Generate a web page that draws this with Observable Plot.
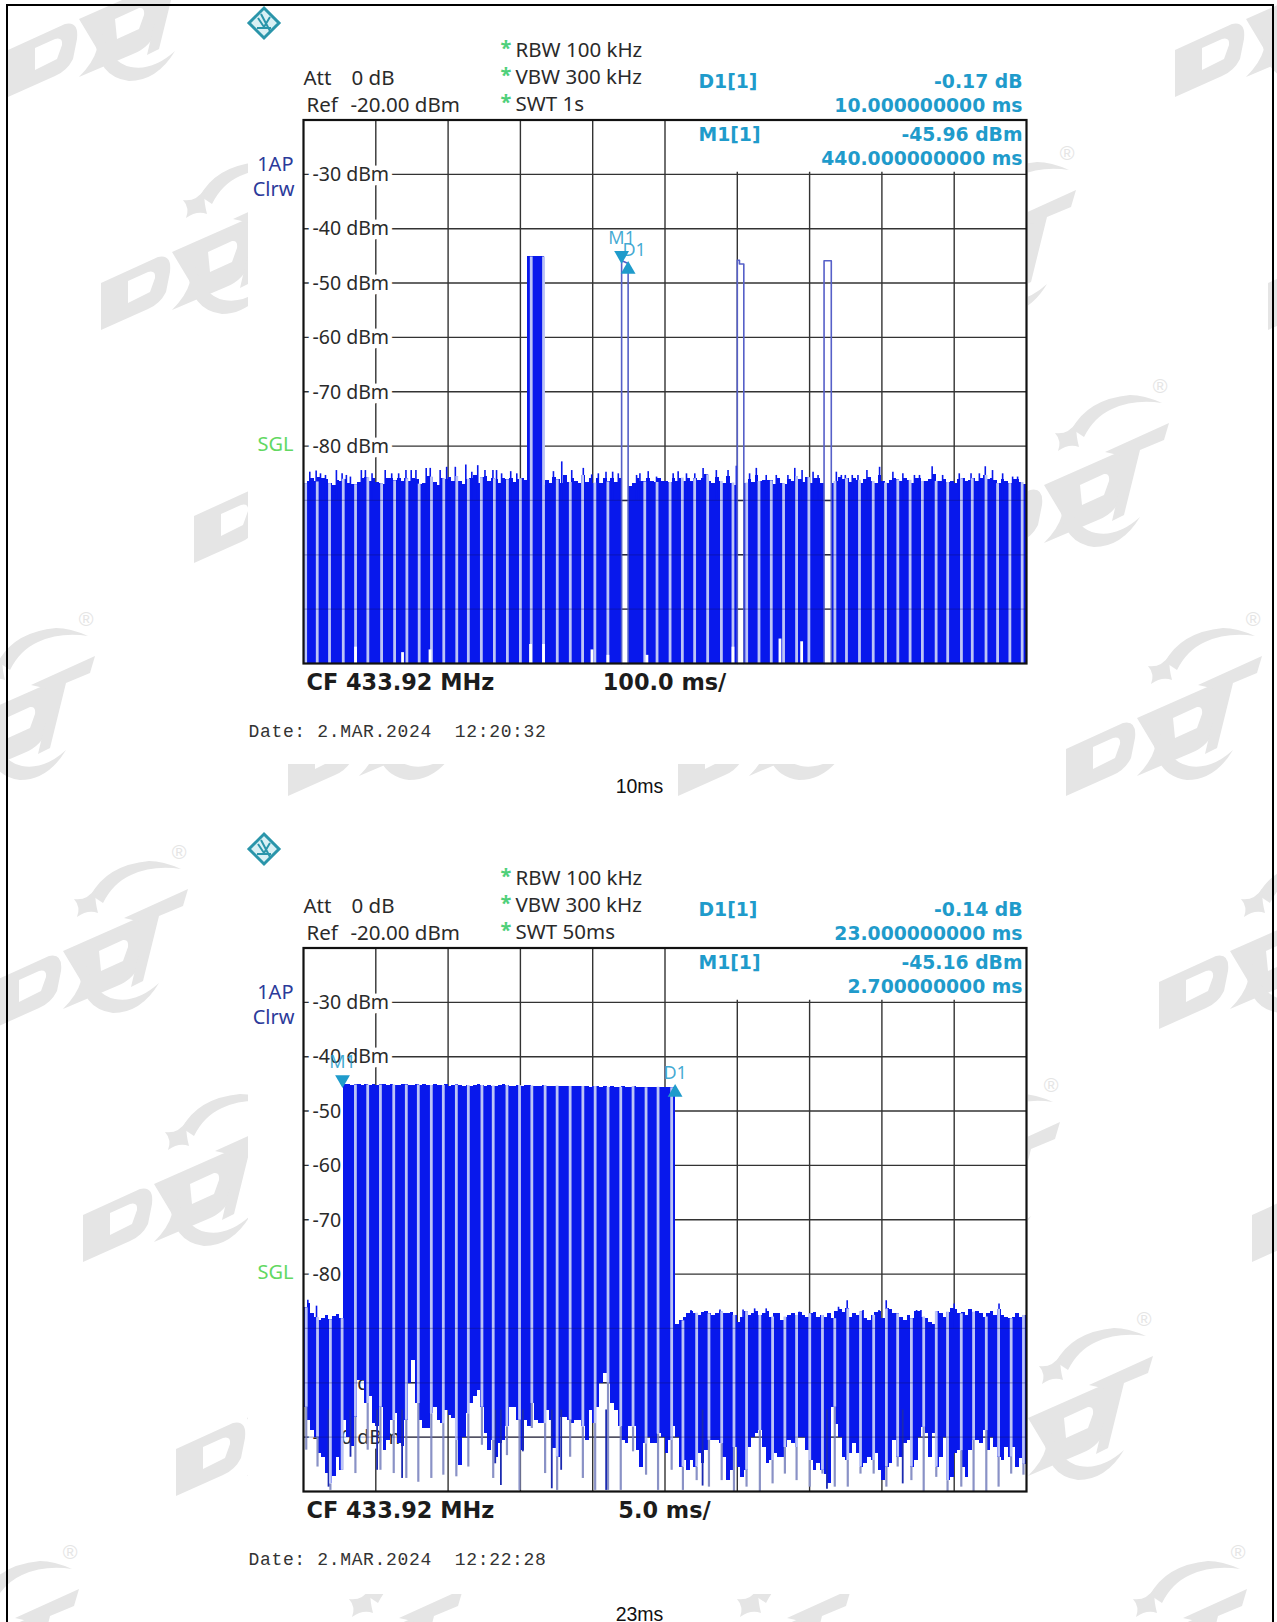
<!DOCTYPE html>
<html><head><meta charset="utf-8">
<script src="https://cdn.jsdelivr.net/npm/d3@7"></script>
<script src="https://cdn.jsdelivr.net/npm/@observablehq/plot@0.6"></script>
<style>
html,body{margin:0;padding:0;background:#fff}
#page{position:relative;width:1277px;height:1622px;overflow:hidden;background:#fff}
#page svg{position:absolute;left:0;background:transparent;overflow:hidden}
#border{position:absolute;left:6px;top:4px;width:1268px;height:1700px;border:2.5px solid #000;box-sizing:border-box}
g[font-family="Liberation Mono"]{letter-spacing:.66px}
</style></head><body>
<div id="page">
<svg id="bg" width="1277" height="1622" style="top:0">
<defs><g id="wm" fill="#e5e5e5">
<path fill-rule="evenodd" d="M101 283 L158 257 Q172 254 170 272 L166 292 Q160 304 148 309 L101 330 Z M128 281 L148 272 Q156 270 155 278 L150 292 L128 303 Z"/>
<path fill-rule="evenodd" d="M172 252 L240 222 Q262 212 256 235 L250 262 Q244 280 226 287 L172 310 Q186 296 190 282 Z M208 252 L232 241 Q238 240 237 248 L232 262 L210 272 Z"/>
<path d="M188 270 Q190 310 222 314 Q250 314 268 284 Q246 304 224 300 Q202 296 194 262 Z"/>
<path d="M200 196 Q216 166 258 162 Q272 162 290 170 Q262 166 240 176 Q222 184 212 204 Z"/>
<path d="M183 200 Q196 202 204 190 Q204 203 207 214 Q197 210 186 218 Q190 208 183 200 Z"/>
<path d="M233 219 L297 190 L292 207 L268 217 L252 282 L240 288 L255 224 Z"/>
<text x="288" y="160" font-size="20" font-family="Liberation Sans" text-anchor="middle">®</text>
</g></defs>
<g id="wmLayer"></g>
<rect x="248" y="6" width="780" height="758" fill="#fff"/>
<rect x="248" y="797" width="780" height="797" fill="#fff"/>
<g id="rs1" transform="translate(264,23)"><path d="M0 -15 L15 0 L0 15 L-15 0 Z" fill="#d9f0f4" stroke="#2a95aa" stroke-width="3"/><path d="M-6 -5 L0 4 L6 -6 M-7 5 L7 5 M-3 -9 L6 8" stroke="#2a95aa" stroke-width="2" fill="none"/></g>
<g id="rs2" transform="translate(264,849)"><path d="M0 -15 L15 0 L0 15 L-15 0 Z" fill="#d9f0f4" stroke="#2a95aa" stroke-width="3"/><path d="M-6 -5 L0 4 L6 -6 M-7 5 L7 5 M-3 -9 L6 8" stroke="#2a95aa" stroke-width="2" fill="none"/></g>
</svg>
<div id="border"></div>
</div>
<script>
// ---- shared
const yTicks = [-30,-40,-50,-60,-70,-80,-90,-100,-110];
const yTicksOver = [-90,-100,-110];
const BLUE = "#0818ec", LAV = "#bcc4f6", GRID = "#333", MARK = "#1f9bcb";
const ROOM = [[195,-80],[288,153],[381,386],[86,619],[179,852],[270,1085],[363,1319],[70,1552],[454,1552],[842,1552],[475,619],[865,619],
  [1067,153],[1160,386],[1253,619],[1051,1085],[1144,1319],[1238,1552],[1362,-80],[1346,852],[1455,153],[1439,1085]];

// ---- panel 1: SWT 1 s, values in ms / dBm
const xGrid1 = [100,200,300,400,500];
const xGridShort1 = [600,700,800,900];
const colStep1 = 5;
const top1 = [
-86.9,-86.6,-85.9,-86.6,-85.7,-85.9,-86.2,-86.9,-87.2,-86.3,-86.6,-86.1,-86.8,-87.0,-87.1,-86.7,-85.9,-85.8,-86.6,-86.0,
-86.7,-86.9,-87.0,-85.9,-86.0,-86.4,-85.9,-86.6,-86.0,-86.5,-85.9,-86.1,-87.0,-86.9,-85.6,-85.7,-86.7,-87.2,-86.0,-86.2,
-85.8,-86.5,-85.6,-86.6,-87.0,-86.1,-86.0,-85.4,-86.8,-85.8,-85.6,-86.5,-86.0,-86.1,-86.8,-86.0,-86.2,-85.9,-86.7,-86.2,
-86.0,-86.4,-86.0,-86.4,-86.9,-87.0,-87.3,-86.3,-86.9,-85.7,-86.2,-86.9,-85.5,-86.7,-86.0,-86.5,-86.8,-85.4,-86.7,-86.0,
-86.8,-86.0,-86.8,-86.0,-86.6,-85.9,-86.7,-86.0,null,null,-87.4,-86.8,-86.0,-86.5,-86.6,-85.9,-86.5,-86.7,-86.0,-86.5,
-86.6,-86.7,-85.9,-86.5,-85.9,-86.6,-86.0,-86.6,-86.0,-86.4,-85.9,-85.3,-86.5,-86.8,-85.7,-86.5,-86.9,-85.6,-86.8,-87.2,
null,null,-86.8,-86.2,-86.7,-85.4,-86.5,-86.4,-86.3,-86.4,-87.0,-86.0,-86.9,-87.1,-86.2,-86.6,-85.6,-86.1,-86.7,-85.8,
-86.8,-85.9,-86.0,-86.9,null,null,-86.8,-86.5,-85.8,-86.2,-86.0,-86.7,-86.0,-86.3,-86.8,-86.1,-85.7,-86.5,-86.8,-85.5,
-86.5,-86.8,-86.4,-85.9,-86.2,-86.5,-86.0,-86.3,-86.9,-86.0,-86.0,-86.5,-86.6,-86.1,-85.2,-86.5,-86.6,-86.1,-86.7,-86.5,
-86.8,-86.1,-86.0,-86.6,-86.4,-86.0,-86.5,-86.0,-85.4,-86.2,-85.9,-86.3,-86.9,-86.1,-86.5,-86.9,-86.2,-86.2,-86.7,-87.0];
const peakX1 = [8.7,17.5,23.5,30.4,45.5,53.4,59.3,64.9,80,85.6,94.8,113,122,131.6,141.7,149,155.5,169.7,175.3,189,198,210,224.5,232.8,241,251,262,267,274,286.6,295,
345.7,357.2,371,387,398.6,407.8,418.4,427.6,435.4,460.7,465.3,476.8,488.3,511.3,518.2,529.7,541.2,552.7,571,587.2,598.7,617,626.3,640,653.9,670,
679.5,689.6,704.8,711.7,737,743.9,749.4,759,766.9,779.3,796.8,815.2,829,845,852,869.5,884,907,923.3,934.8,943,953,967,980.8,987.7];
const peakY1 = [-84.8,-84.6,-85.1,-85.4,-84.5,-85.1,-85.4,-85.7,-84.5,-84.5,-85.1,-84.5,-85.1,-85.1,-84.5,-84.5,-84.5,-84.1,-84.1,-84.5,-83.9,-83.9,-83.5,-84.8,-83.6,-84.5,-84.5,-84.5,-85.1,-84.7,-85.1,
-84.7,-82.9,-84.5,-84.1,-85.3,-85.1,-84.8,-84.8,-85.1,-85.4,-85.1,-84.7,-85.7,-85.1,-84.7,-85.1,-85.1,-84.1,-84.5,-84.5,-83.7,-85.1,-84.1,-85.4,-85.4,-85.4,
-84.1,-84.5,-84.8,-85.4,-84.8,-85.4,-85.4,-85.4,-85.4,-84.5,-83.9,-84.8,-85.1,-85.4,-85.4,-83.8,-85.4,-85.1,-85.1,-85.1,-83.8,-84.5,-85.1,-85.7,-85.7];
const gaps1 = [3,19,36,55,72,89,108,126,143,160,177,194,212,228,246,264,282,300,315,332,351,369,386,403,421,472,489,507,524,541,559,578,594,613,630,647,664,682,699,735,751,769,788,805,822,839,856,875,891,910,925,944,960,977,994];
const notchX1 = [72,137,175,314,332,399,421,475,594,659,689];
const notchY1 = [-117,-118,-117.5,-116.5,-116.5,-117.5,-118.5,-118.5,-117,-115.5,-116];
const burstX1 = [310,334];
const burstTop1 = -45.2;
const pulseA = {x:[440,440,442,449,449], y:[-120,-46,-46,-46.4,-120]};
const pulseB = {x:[600,600,603,603,609,609], y:[-120,-45.8,-45.8,-46.5,-46.5,-120]};
const pulseC = {x:[720,720,730,730], y:[-120,-45.9,-45.9,-120]};
const marker1 = {mx:440, my:-44.9, dx:449, dy:-47.5};

// ---- panel 2: SWT 50 ms
const xGrid2 = [5,10,15,20,25];
const xGridShort2 = [30,35,40,45];
const colStep2 = 0.25;
const top2 = [
-86.2,-85.4,-87.3,-88.0,-88.6,-88.1,-87.6,-88.4,-87.8,-87.5,-88.2,
-45.2,-45.2,-45.3,-45.2,-45.2,-45.3,-45.2,-45.3,-45.2,-45.3,
-45.2,-45.2,-45.3,-45.2,-45.3,-45.3,-45.2,-45.2,-45.3,-45.3,
-45.2,-45.3,-45.2,-45.3,-45.3,-45.2,-45.3,-45.3,-45.2,-45.4,
-45.3,-45.2,-45.3,-45.4,-45.3,-45.4,-45.3,-45.2,-45.3,-45.4,
-45.3,-45.4,-45.4,-45.3,-45.2,-45.3,-45.4,-45.4,-45.3,-45.4,
-45.3,-45.3,-45.4,-45.5,-45.4,-45.3,-45.4,-45.5,-45.4,-45.4,
-45.5,-45.4,-45.5,-45.5,-45.4,-45.5,-45.5,-45.5,-45.6,-45.5,
-45.5,-45.6,-45.5,-45.6,-45.5,-45.6,-45.6,-45.5,-45.6,-45.6,
-45.5,-45.6,-45.6,-45.7,-45.6,-45.6,-45.7,-45.6,-45.7,-45.7,
-45.7,-45.7,
-89.2,-88.6,-87.9,-87.3,-86.9,-87.2,-87.6,-87.0,-86.9,-87.3,-87.6,-87.3,-86.9,-87.3,-87.3,-87.0,-87.6,-88.9,-87.9,-86.9,
-87.6,-87.3,-86.8,-87.6,-87.3,-86.8,-87.9,-87.3,-87.3,-88.6,-87.9,-87.6,-87.3,-87.6,-87.0,-87.6,-87.9,-87.3,-87.0,-87.9,
-87.6,-87.9,-87.3,-88.2,-86.8,-86.6,-87.0,-86.4,-87.9,-87.3,-87.6,-86.9,-88.2,-88.6,-87.6,-87.0,-86.9,-88.2,-86.4,-86.6,
-87.3,-87.3,-87.9,-88.6,-87.6,-88.2,-86.9,-86.9,-87.9,-88.2,-88.9,-89.2,-86.9,-87.3,-87.9,-87.0,-86.4,-86.6,-87.3,-87.0,
-87.6,-86.6,-87.0,-86.9,-87.3,-87.9,-87.3,-86.9,-87.6,-86.5,-87.6,-87.9,-88.2,-87.9,-87.3,-87.9,-87.6];
const peakX2 = [26.8,28.8,30.4,31.2,32,34.3,37,37.6,38.7,39.8,40.3,42.4,42.7,45,48.1,0.9,0.3];
const peakY2 = [-86.7,-86.6,-86.6,-86.4,-86.4,-87,-86.1,-84.9,-86.7,-86.7,-84.9,-86.7,-86.7,-85.5,-85.5,-85.9,-84.8];
const low2 = [
-104.5,-106.9,-108.7,-110,-113,-113.7,-116.7,-118.6,-117.3,-113.7,-116.1,-106.9,-110,-111.8,-106.3,-99.6,-99.6,-103.8,-102.6,-107.5,
-108.1,-104.5,-112.4,-110.6,-106.9,-105.7,-111.2,-111.8,-106.9,-100.2,-95.9,-103.8,-106.9,-108.4,-108.4,-105.7,-104.5,-106.9,-107.5,-105.1,
-106,-106.6,-110.6,-115.2,-110,-105.7,-103.8,-102.6,-101.4,-104.5,-109.4,-112.4,-110.6,-113.7,-111.2,-110.6,-108.1,-104.5,-104.5,-106.9,
-112.4,-106.9,-108.1,-103.8,-106.9,-107.5,-107.5,-105.1,-106.9,-112.1,-113.7,-106.3,-106.3,-106.9,-107.5,-106.9,-106.9,-108.1,-110.6,-105.1,
-107.5,-104.5,-100.2,-98.3,-100.2,-103.8,-105.1,-108.1,-110.6,-111.2,-108.1,-108.1,-112.4,-115.5,-111.2,-110,-111.2,-111.2,-109.4,-110,
-113,-110.6,-108.1,-110,-115.5,-114.3,-116.1,-114.3,-115.5,-113.1,-114.9,-112.5,-110.6,-110.6,-110.6,-111.2,-113.7,-118,-116.1,-111.9,
-115.5,-117.4,-116.1,-111.9,-110,-109.4,-108.8,-111.9,-114.9,-114.3,-113.1,-113.7,-113.7,-111.9,-110.6,-111.2,-111.9,-110,-110,-112.5,
-114.3,-116.1,-114.9,-116.1,-116.8,-118.6,-104.5,-107.6,-110,-113.7,-114.3,-113.1,-111.2,-113.1,-115.5,-114.9,-113.7,-114.3,-113.1,-116.1,
-118,-115.5,-114.9,-110.6,-113.7,-113.7,-111.2,-110.6,-115.5,-114.3,-110,-108.2,-109.4,-113.7,-109.4,-115.5,-113.7,-110,-118,-117.4,
-113.1,-112.5,-115.5,-117.4,-112.5,-110.6,-110.6,-111.2,-108.8,-112.5,-110,-111.9,-113.7,-114.3,-111.9,-113.7,-111.9,-115.5,-114,-115];
const gaps2 = [0.19,0.97,1.86,2.67,3.59,4.44,5.32,6.24,7.11,7.94,8.84,9.67,10.57,11.4,12.34,13.12,14.07,14.94,15.79,16.71,17.54,18.44,19.32,20.17,21.06,21.94,22.79,23.69,24.52,25.46,26.24,27.19,28.04,28.92,29.77,30.64,31.56,32.44,33.29,34.1,35.01,35.89,36.74,37.64,38.52,39.43,40.31,41.09,42.04,42.89,43.76,44.54,45.49,46.34,47.22,48.07,48.94,49.79];
const gapEnd2 = [-112.4,-115.5,-119.8,-110,-116.7,-112.4,-116.1,-116.7,-117.6,-118.3,-117.6,-117,-117.3,-115.5,-111.5,-117.6,-113.4,-119.8,-108.4,-116.7,-119.8,-113.7,-117.6,-119.8,-119.8,-119.8,-112.7,-117,-119.8,-116.1,-119.8,-118,-119.2,-118,-120,-119.2,-120,-118.6,-116.8,-118,-119.2,-116.8,-119.2,-119.2,-116.8,-116.8,-119.2,-115.5,-118,-120,-117.4,-120,-119.2,-120,-120,-119.2,-116.8,-117];
const spikeX2 = [1.73,3.25,5.09,6.82,13.26,13.65,15.17,17.17,17.82,20.93,41.44,27.6,36.2];
const spikeY2 = [-119.2,-113.7,-116.1,-117.6,-114.9,-118.9,-112.7,-119.5,-116.1,-119.8,-118.6,-119,-119.6];
const marker2 = {mx:2.7, my:-44.2, dx:25.7, dy:-46.6};

// ---- text
const FONT = "Noto Sans", BOLD = "DejaVu Sans", MONO = "Liberation Mono", CAP = "Liberation Sans";
const header1 = {swt:"SWT 1s", dVal:"-0.17 dB", dTime:"10.000000000 ms", mVal:"-45.96 dBm", mTime:"440.000000000 ms", span:"100.0 ms/", date:"Date: 2.MAR.2024  12:20:32", caption:"10ms"};
const header2 = {swt:"SWT 50ms", dVal:"-0.14 dB", dTime:"23.000000000 ms", mVal:"-45.16 dBm", mTime:"2.700000000 ms", span:"5.0 ms/", date:"Date: 2.MAR.2024  12:22:28", caption:"23ms"};

const lab = (t,dx,dy,o={}) => Plot.text([t],{text:d=>d,frameAnchor:"top-left",dx,dy,textAnchor:"start",lineAnchor:"middle",fontFamily:FONT,fontSize:20.5,fill:"#2a2a2a",...o});
const read = {fontFamily:BOLD,fontWeight:700,fill:MARK,fontSize:18.8};

function panel(cfg){
  const {domain,xGrid,xGridShort,step,top,low,gaps,gapEnd,spikes,peaks,head,marker,markerText,extra,top_css} = cfg;
  const cols = top.map((v,i)=>({x1:i*step,x2:(i+1)*step,y1:low?low[i]:-120,y2:v})).filter(d=>d.y2!=null && d.y1!=null);
  const colAt = x => top[Math.min(top.length-1,Math.floor(x/step))];
  const gapRows = gaps.map((x,i)=>{
    const c=Math.min(top.length-1,Math.floor(x/step));
    let t=colAt(x); if(t==null) t=-86;
    if(extra.burst && x>=extra.burst[0] && x<=extra.burst[1]) t=extra.burstTop;
    return {x,t,m:low?low[c]:-120,b:gapEnd?gapEnd[i]:-120};
  });
  const marks = [
    Plot.ruleY(yTicks,{stroke:GRID,strokeWidth:1.4}),
    Plot.ruleX(xGrid,{stroke:GRID,strokeWidth:1.4}),
    Plot.ruleX(xGridShort,{y1:-120,y2:-29.6,stroke:GRID,strokeWidth:1.4}),
    Plot.text(yTicks,{y:d=>d,frameAnchor:"left",dx:9,dy:0.5,textAnchor:"start",text:d=>`${d} dBm`,fontSize:19.5,fontFamily:FONT,fill:"#2a2a2a",stroke:"#fff",strokeWidth:9}),
    Plot.rect(cols,{x1:"x1",x2:"x2",y1:"y1",y2:"y2",fill:BLUE,shapeRendering:"crispEdges"})
  ];
  if(extra.burst) marks.push(Plot.rect([{a:extra.burst[0],b:extra.burst[1]}],{x1:"a",x2:"b",y1:-120,y2:extra.burstTop,fill:BLUE,shapeRendering:"crispEdges"}));
  if(peaks) marks.push(Plot.ruleX(peaks,{x:"x",y1:-90,y2:"y",stroke:BLUE,strokeWidth:1.6}));
  if(low){
    marks.push(Plot.ruleX(gapRows,{x:"x",y1:"m",y2:"b",stroke:"#8a92c6",strokeWidth:2.2}));
    marks.push(Plot.ruleX(spikes,{x:"x",y1:"y",y2:-105,stroke:"#1b2ab0",strokeWidth:1.8}));
  }
  marks.push(Plot.ruleX(gapRows,{x:"x",y1:low?"m":-120,y2:"t",stroke:LAV,strokeWidth:2.8}));
  if(extra.notch) marks.push(Plot.ruleX(extra.notch,{x:"x",y1:-120,y2:"y",stroke:"#fff",strokeWidth:2.8}));
  if(extra.pulses) for(const p of extra.pulses) marks.push(Plot.line(p.x.map((x,i)=>({x,y:p.y[i]})),{x:"x",y:"y",stroke:"#5660c8",strokeWidth:1.6}));
  marks.push(
    Plot.ruleY(yTicksOver,{stroke:"#101060",strokeWidth:1.2,strokeOpacity:.3}),
    Plot.frame({stroke:"#111",strokeWidth:2.2}),
    Plot.dot([marker.mx],{x:d=>d,y:marker.my,symbol:"triangle",rotate:180,r:5.5,fill:MARK,stroke:"none"}),
    Plot.dot([marker.dx],{x:d=>d,y:marker.dy,symbol:"triangle",r:5.5,fill:MARK,stroke:"none"}),
    Plot.text(["M1"],{text:d=>d,x:marker.mx,y:marker.my,dy:-17,fontSize:18,fontFamily:FONT,fill:MARK,fillOpacity:.85}),
    Plot.text(["D1"],{text:d=>d,x:marker.dx,y:marker.dy,dy:-19,dx:markerText,fontSize:18,fontFamily:FONT,fill:MARK,fillOpacity:.85}),
    // instrument header
    lab("Att",0,-42), lab("0 dB",48,-42),
    lab("Ref",3,-15), lab("-20.00 dBm",47,-15),
    lab("*",197,-71,{fill:"#4fd07a",fontWeight:700,fontSize:20}), lab("RBW 100 kHz",212,-70),
    lab("*",197,-44,{fill:"#4fd07a",fontWeight:700,fontSize:20}), lab("VBW 300 kHz",212,-43),
    lab("*",197,-17,{fill:"#4fd07a",fontWeight:700,fontSize:20}), lab(head.swt,212,-16),
    lab("D1[1]",395,-38,read),
    lab(head.dVal,719,-38,{textAnchor:"end",...read}),
    lab(head.dTime,719,-14,{textAnchor:"end",...read}),
    lab("M1[1]",395,15,read),
    lab(head.mVal,719,15,{textAnchor:"end",...read}),
    lab(head.mTime,719,39,{textAnchor:"end",...read}),
    lab("1AP",-10,45,{textAnchor:"end",fill:"#2b3a9a",fontSize:20}), lab("Clrw",-9,70,{textAnchor:"end",fill:"#2b3a9a",fontSize:20}),
    lab("SGL",-46,325,{fill:"#62d862",fontSize:20}),
    lab("CF 433.92 MHz",3,563,{fontFamily:BOLD,fontWeight:700,fontSize:22.4,fill:"#1c1c1c"}),
    lab(head.span,361,563,{textAnchor:"middle",fontFamily:BOLD,fontWeight:700,fontSize:22.4,fill:"#1c1c1c"}),
    lab(head.date,-55,611,{fontFamily:MONO,fontSize:18,fill:"#333"}),
    lab(head.caption,336,667,{textAnchor:"middle",fontFamily:CAP,fontSize:19.5,fill:"#111"})
  );
  const svg = Plot.plot({
    width:1277, height:800, marginLeft:303, marginRight:251, marginTop:119.5, marginBottom:800-663,
    x:{domain,axis:null}, y:{domain:[-120,-20],axis:null},
    style:{background:"transparent",overflow:"visible"},
    marks
  });
  svg.style.top = top_css+"px";
  document.getElementById("page").appendChild(svg);
}

panel({domain:[0,1000],xGrid:xGrid1,xGridShort:xGridShort1,step:colStep1,top:top1,gaps:gaps1,peaks:peakX1.map((x,i)=>({x,y:peakY1[i]})),head:header1,marker:marker1,markerText:6,top_css:0,
  extra:{burst:burstX1,burstTop:burstTop1,notch:notchX1.map((x,i)=>({x,y:notchY1[i]})),pulses:[pulseA,pulseB,pulseC]}});
panel({domain:[0,50],xGrid:xGrid2,xGridShort:xGridShort2,step:colStep2,top:top2,low:low2,gaps:gaps2,gapEnd:gapEnd2,peaks:peakX2.map((x,i)=>({x,y:peakY2[i]})),spikes:spikeX2.map((x,i)=>({x,y:spikeY2[i]})),head:header2,marker:marker2,markerText:0,top_css:828,extra:{}});

// decorative watermark tiles behind the screenshots
const layer = document.getElementById("wmLayer");
for(const [x,y] of ROOM){
  const u = document.createElementNS("http://www.w3.org/2000/svg","use");
  u.setAttribute("href","#wm");
  u.setAttribute("transform",`translate(${x-288},${y-153})`);
  layer.appendChild(u);
}
</script>
</body></html>
